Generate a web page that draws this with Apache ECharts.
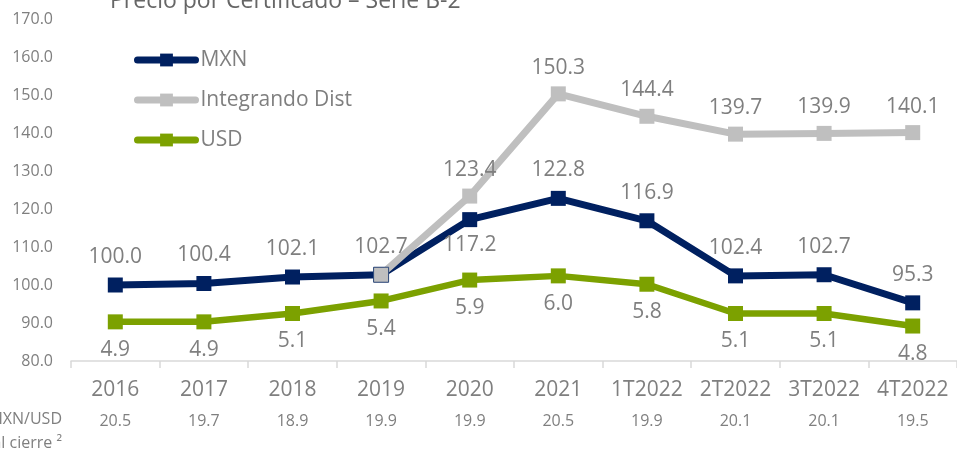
<!DOCTYPE html>
<html>
<head>
<meta charset="utf-8">
<script src="https://cdn.jsdelivr.net/npm/echarts@6/dist/echarts.min.js"></script>
<style>
  html, body { margin: 0; padding: 0; background: #fff; }
  #chart { width: 957px; height: 451px; }
</style>
</head>
<body>
<div id="chart"></div>
<script>
var categories = ['2016', '2017', '2018', '2019', '2020', '2021', '1T2022', '2T2022', '3T2022', '4T2022'];
var fxRates = ['20.5', '19.7', '18.9', '19.9', '19.9', '20.5', '19.9', '20.1', '20.1', '19.5'];
var mxnValues = [100.0, 100.4, 102.1, 102.7, 117.2, 122.8, 116.9, 102.4, 102.7, 95.3];
var distValues = [null, null, null, 102.7, 123.4, 150.3, 144.4, 139.7, 139.9, 140.1];
var usdValues = [4.9, 4.9, 5.1, 5.4, 5.9, 6.0, 5.8, 5.1, 5.1, 4.8];
var mxnLabelsBelow = [4];     // index of MXN points whose label sits below
var distLabelsHidden = [3];   // first point shares the MXN label

var grey = '#7f7f7f';
var font = 'Open Sans';

var myChart = echarts.init(document.getElementById('chart'));

function fmt(p) {
	return p.value == null ? '' : Number(p.value).toFixed(1);
}

var mxnData = mxnValues.map(function(v, i) {
	if (mxnLabelsBelow.indexOf(i) >= 0) {
		return { value: v, label: { position: 'bottom', distance: 7 } };
	}
	return v;
});
var distData = distValues.map(function(v, i) {
	if (distLabelsHidden.indexOf(i) >= 0) {
		return { value: v, label: { show: false }, itemStyle: { borderColor: '#2f4a7a', borderWidth: 1 } };
	}
	return v;
});

var option = {
	animation: false,
	textStyle: { fontFamily: font },
	title: {
		text: 'Precio por Certificado – Serie B-2',
		left: 105,
		top: -15,
		textStyle: { fontFamily: font, fontSize: 23, fontWeight: 'normal', color: '#666' }
	},
	legend: {
		orient: 'vertical',
		left: 134,
		top: 48,
		padding: 0,
		itemWidth: 58,
		itemHeight: 16,
		itemGap: 16,
		lineStyle: { width: 7, cap: 'round' },
		data: ['MXN', 'Integrando Dist', 'USD'],
		textStyle: { fontFamily: font, fontSize: 21, color: grey, lineHeight: 24 }
	},
	grid: {
		left: 71,
		top: 19,
		bottom: 90,
		width: 892
	},
	xAxis: {
		type: 'category',
		data: categories,
		boundaryGap: true,
		axisLine: { lineStyle: { color: '#d9d9d9', width: 1.5 } },
		axisTick: { show: true, length: 7, lineStyle: { color: '#d9d9d9', width: 1.5 } },
		axisLabel: {
			margin: 14,
			interval: 0,
			formatter: function(value, index) {
				return '{a|' + value + '}\n{b|' + fxRates[index] + '}';
			},
			rich: {
				a: { fontFamily: font, fontSize: 21, lineHeight: 30, color: grey },
				b: { fontFamily: font, fontSize: 16, lineHeight: 32, color: grey }
			}
		}
	},
	yAxis: [{
		type: 'value',
		min: 80,
		max: 170,
		interval: 10,
		axisLine: { show: false },
		axisTick: { show: false },
		splitLine: { show: false },
		axisLabel: {
			margin: 18,
			fontFamily: font,
			fontSize: 16,
			color: grey,
			formatter: function(v) { return v.toFixed(1); }
		}
	}, {
		type: 'value',
		min: 3.9636,
		max: 12.145,
		show: false,
		splitLine: { show: false }
	}],
	graphic: [{
		type: 'text',
		right: 895,
		top: 411,
		style: { text: 'MXN/USD', fontFamily: font, fontSize: 16, fill: grey, textAlign: 'right' }
	}, {
		type: 'text',
		right: 895,
		top: 435,
		style: { text: 'al cierre ²', fontFamily: font, fontSize: 16, fill: grey, textAlign: 'right' }
	}],
	series: [{
		name: 'MXN',
		type: 'line',
		data: mxnData,
		symbol: 'rect',
		symbolSize: 15,
		lineStyle: { width: 7, color: '#002060' },
		itemStyle: { color: '#002060' },
		label: { show: true, position: 'top', distance: 10, fontFamily: font, fontSize: 21, color: grey, formatter: fmt },
		z: 2
	}, {
		name: 'Integrando Dist',
		type: 'line',
		data: distData,
		symbol: 'rect',
		symbolSize: 15,
		lineStyle: { width: 7, color: '#bfbfbf' },
		itemStyle: { color: '#bfbfbf' },
		label: { show: true, position: 'top', distance: 8, fontFamily: font, fontSize: 21, color: grey, formatter: fmt },
		z: 3
	}, {
		name: 'USD',
		type: 'line',
		yAxisIndex: 1,
		data: usdValues,
		symbol: 'rect',
		symbolSize: 15,
		lineStyle: { width: 6.5, color: '#7ca100' },
		itemStyle: { color: '#7ca100' },
		label: { show: true, position: 'bottom', distance: 10, fontFamily: font, fontSize: 21, color: grey, formatter: fmt },
		z: 2
	}]
};

myChart.setOption(option);
</script>
</body>
</html>
